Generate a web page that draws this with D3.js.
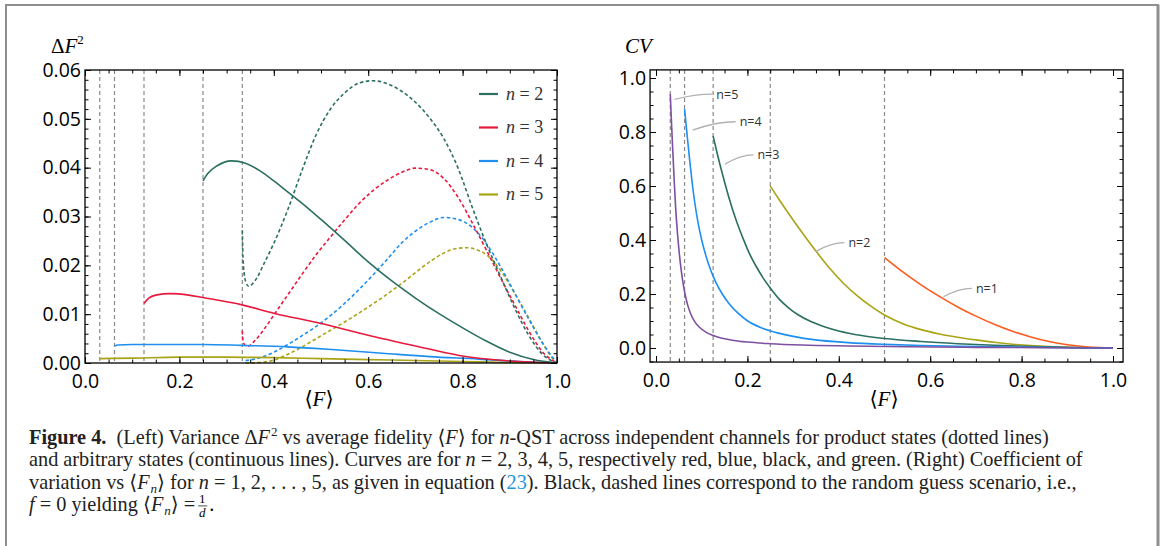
<!DOCTYPE html>
<html>
<head>
<meta charset="utf-8">
<script src="https://cdn.jsdelivr.net/npm/d3@7"></script>
<style>
  body { margin: 0; background: #fff; }
  svg text { font-family: "Open Sans", sans-serif; }
  svg .serif text, svg text.serif { font-family: "Liberation Serif", "DejaVu Serif", serif; }
</style>
</head>
<body>
<svg id="fig" width="1165" height="546"></svg>
<script>
// ---- left panel: variance dF^2 vs <F> ----
let varN2Arb = [[0.25,0.0373],[0.26,0.0388],[0.28,0.0404],[0.31,0.0414],[0.34,0.0409],[0.37,0.0394],[0.40,0.0373],[0.43,0.0350],[0.46,0.0327],[0.50,0.0294],[0.55,0.0251],[0.60,0.0207],[0.65,0.0168],[0.70,0.0133],[0.75,0.0101],[0.80,0.0072],[0.85,0.0045],[0.90,0.0022],[0.95,0.0007],[1.0,0]];
let varN2Prod = [[0.3333,0.0272],[0.3345,0.0222],[0.337,0.0185],[0.341,0.0165],[0.347,0.0157],[0.36,0.0168],[0.38,0.0205],[0.40,0.0245],[0.43,0.0315],[0.46,0.0395],[0.49,0.0468],[0.52,0.0520],[0.55,0.0553],[0.58,0.0573],[0.61,0.0578],[0.64,0.0572],[0.67,0.0557],[0.70,0.0534],[0.73,0.0502],[0.76,0.0460],[0.79,0.0400],[0.82,0.0320],[0.85,0.0245],[0.88,0.0178],[0.91,0.0113],[0.94,0.0057],[0.97,0.0017],[1.0,0]];
let varN3Arb = [[0.125,0.0122],[0.135,0.0133],[0.15,0.0139],[0.18,0.0142],[0.22,0.0139],[0.25,0.0134],[0.333,0.0119],[0.40,0.0102],[0.50,0.0081],[0.60,0.0057],[0.70,0.0035],[0.79,0.0016],[0.90,0.0004],[1.0,0]];
let varN3Prod = [[0.3333,0.0066],[0.335,0.0045],[0.34,0.0036],[0.347,0.0035],[0.36,0.0046],[0.38,0.0070],[0.40,0.0098],[0.43,0.0140],[0.46,0.0182],[0.49,0.0222],[0.52,0.0258],[0.55,0.0293],[0.58,0.0326],[0.61,0.0353],[0.64,0.0374],[0.67,0.0390],[0.70,0.0399],[0.73,0.0396],[0.76,0.0378],[0.79,0.0340],[0.82,0.0288],[0.85,0.0232],[0.88,0.0175],[0.91,0.0120],[0.94,0.0066],[0.97,0.0022],[1.0,0]];
let varN4Arb = [[0.0625,0.0035],[0.07,0.0037],[0.10,0.0038],[0.20,0.0038],[0.25,0.0038],[0.333,0.0036],[0.43,0.0033],[0.53,0.0027],[0.63,0.0020],[0.73,0.0013],[0.834,0.0008],[0.92,0.0003],[1.0,0]];
let varN4Prod = [[0.34,0.0005],[0.36,0.0008],[0.38,0.0014],[0.40,0.0022],[0.43,0.0038],[0.46,0.0056],[0.49,0.0075],[0.52,0.0097],[0.55,0.0122],[0.58,0.0150],[0.61,0.0180],[0.64,0.0212],[0.67,0.0245],[0.70,0.0270],[0.73,0.0288],[0.76,0.0298],[0.79,0.0294],[0.82,0.0278],[0.85,0.0245],[0.88,0.0198],[0.91,0.0144],[0.94,0.0090],[0.97,0.0040],[1.0,0]];
let varN5Arb = [[0.03125,0.0009],[0.10,0.0010],[0.20,0.0012],[0.30,0.0012],[0.40,0.0011],[0.50,0.0009],[0.60,0.0007],[0.70,0.0005],[0.80,0.0003],[0.90,0.0001],[1.0,0]];
let varN5Prod = [[0.34,0],[0.37,0.0001],[0.40,0.0006],[0.43,0.0018],[0.46,0.0033],[0.49,0.0050],[0.52,0.0067],[0.55,0.0084],[0.58,0.0102],[0.61,0.0121],[0.64,0.0141],[0.67,0.0162],[0.70,0.0185],[0.73,0.0207],[0.76,0.0225],[0.79,0.0235],[0.81,0.0236],[0.83,0.0232],[0.85,0.0222],[0.87,0.0203],[0.89,0.0176],[0.91,0.0143],[0.93,0.0110],[0.95,0.0075],[0.97,0.0040],[0.99,0.0010],[1.0,0]];
let guessLeft = [0.03125, 0.0625, 0.125, 0.25, 0.3333];
let legendNames = ['2', '3', '4', '5'];

// ---- right panel: coefficient of variation ----
let cvN1 = [[0.5,0.335],[0.54,0.282],[0.58,0.234],[0.62,0.191],[0.66,0.152],[0.70,0.118],[0.74,0.088],[0.78,0.062],[0.82,0.041],[0.86,0.024],[0.90,0.012],[0.94,0.0045],[0.97,0.0013],[1.0,0]];
let cvN2 = [[0.25,0.60],[0.27,0.548],[0.30,0.474],[0.33,0.404],[0.35,0.359],[0.38,0.295],[0.41,0.240],[0.44,0.194],[0.47,0.155],[0.50,0.122],[0.54,0.090],[0.58,0.068],[0.62,0.052],[0.66,0.040],[0.70,0.030],[0.74,0.021],[0.78,0.014],[0.82,0.0087],[0.86,0.0050],[0.90,0.0024],[0.95,0.0006],[1.0,0]];
let cvN3 = [[0.125,0.785],[0.135,0.713],[0.147,0.634],[0.159,0.560],[0.175,0.475],[0.19,0.408],[0.205,0.348],[0.22,0.300],[0.235,0.258],[0.25,0.222],[0.27,0.180],[0.29,0.149],[0.31,0.124],[0.34,0.097],[0.37,0.078],[0.40,0.063],[0.45,0.046],[0.50,0.035],[0.58,0.024],[0.66,0.016],[0.74,0.010],[0.82,0.0058],[0.90,0.0025],[0.95,0.0009],[1.0,0]];
let cvN4 = [[0.0625,0.885],[0.068,0.79],[0.074,0.69],[0.08,0.60],[0.086,0.525],[0.093,0.455],[0.10,0.400],[0.11,0.337],[0.12,0.287],[0.13,0.247],[0.145,0.200],[0.16,0.164],[0.18,0.128],[0.20,0.101],[0.23,0.075],[0.266,0.056],[0.30,0.043],[0.345,0.031],[0.42,0.020],[0.50,0.0135],[0.58,0.0095],[0.66,0.0066],[0.74,0.0043],[0.82,0.0025],[0.90,0.0011],[1.0,0]];
let cvN5 = [[0.03125,0.94],[0.034,0.83],[0.037,0.72],[0.040,0.615],[0.043,0.52],[0.047,0.425],[0.051,0.35],[0.055,0.29],[0.06,0.232],[0.065,0.188],[0.07,0.155],[0.077,0.122],[0.085,0.097],[0.095,0.077],[0.11,0.058],[0.125,0.046],[0.145,0.036],[0.17,0.028],[0.20,0.022],[0.25,0.016],[0.32,0.011],[0.42,0.0075],[0.55,0.0045],[0.70,0.0025],[0.85,0.0011],[1.0,0]];
let guessRight = [0.03125, 0.0625, 0.125, 0.25, 0.5];
let cvNames = ['n=5', 'n=4', 'n=3', 'n=2', 'n=1'];
let cvNameAt = [[0.132,0.94],[0.183,0.838],[0.222,0.715],[0.421,0.39],[0.70,0.221]];
let cvNameFrom = [[0.041,0.921],[0.080,0.807],[0.151,0.681],[0.349,0.357],[0.629,0.19]];

let xTicks = [0, 0.2, 0.4, 0.6, 0.8, 1.0];
let col = {n1: '#ff5a1e', n2: '#2b6f60', n3: '#e8193c', n4: '#1e8ff0', n5: '#a9a316', n5r: '#7d50a0'};

let svg = d3.select('#fig');

// outer paper frame
svg.append('path').attr('d', 'M6,546 V5 H1158 V546').attr('fill', 'none')
    .attr('stroke', '#8e8e8e').attr('stroke-width', 2);
svg.append('line').attr('x1', 1158).attr('x2', 1158).attr('y1', 5).attr('y2', 546)
    .attr('stroke', '#8e8e8e').attr('stroke-width', 3);

function range(a, b, s) {
    let out = [];
    for (let v = a; v <= b + 1e-9; v += s) out.push(+v.toFixed(4));
    return out;
}

function drawFrame(x, y, box, yMajor, yMinor, fy) {
    let g = svg.append('g');
    let big = 6, small = 3.5;
    let fx = d3.format('.1f');
    let set = sel => sel.attr('font-size', 19.5).attr('font-family', '"Open Sans", sans-serif')
        .call(s => s.select('.domain').remove());
    g.append('g').attr('transform', `translate(0,${box.b})`)
        .call(d3.axisBottom(x).tickValues(xTicks).tickSize(-big).tickPadding(11).tickFormat(fx)).call(set);
    g.append('g').attr('transform', `translate(0,${box.b})`)
        .call(d3.axisBottom(x).tickValues(range(0, 1, 0.05)).tickSize(-small).tickFormat('')).call(set);
    g.append('g').attr('transform', `translate(0,${box.t})`)
        .call(d3.axisTop(x).tickValues(xTicks).tickSize(-big).tickFormat('')).call(set);
    g.append('g').attr('transform', `translate(0,${box.t})`)
        .call(d3.axisTop(x).tickValues(range(0, 1, 0.05)).tickSize(-small).tickFormat('')).call(set);
    g.append('g').attr('transform', `translate(${box.l},0)`)
        .call(d3.axisLeft(y).tickValues(yMajor).tickSize(-big).tickPadding(4).tickFormat(fy)).call(set);
    g.append('g').attr('transform', `translate(${box.l},0)`)
        .call(d3.axisLeft(y).tickValues(yMinor).tickSize(-small).tickFormat('')).call(set);
    g.append('g').attr('transform', `translate(${box.r},0)`)
        .call(d3.axisRight(y).tickValues(yMajor).tickSize(-big).tickFormat('')).call(set);
    g.append('g').attr('transform', `translate(${box.r},0)`)
        .call(d3.axisRight(y).tickValues(yMinor).tickSize(-small).tickFormat('')).call(set);
    g.append('rect').attr('x', box.l).attr('y', box.t).attr('width', box.r - box.l).attr('height', box.b - box.t)
        .attr('fill', 'none').attr('stroke', '#000').attr('stroke-width', 1.3);
}

function guessLines(x, box, vals) {
    svg.append('g').selectAll('line').data(vals).join('line')
        .attr('x1', d => x(d)).attr('x2', d => x(d))
        .attr('y1', box.t).attr('y2', box.b)
        .attr('stroke', '#8a8a8a').attr('stroke-width', 1.2).attr('stroke-dasharray', '4,3');
}

// ================= left panel =================
let xL = d3.scaleLinear().domain([0, 1]).range([85, 557]);
let yL = d3.scaleLinear().domain([0, 0.06]).range([363, 70]);
let boxL = {l: xL(0), r: xL(1), t: yL(0.06), b: yL(0)};

guessLines(xL, boxL, guessLeft);

let lineL = d3.line().x(d => xL(d[0])).y(d => yL(d[1])).curve(d3.curveMonotoneX);
let leftSeries = [
    {d: varN5Prod, c: col.n5, dash: true}, {d: varN4Prod, c: col.n4, dash: true},
    {d: varN3Prod, c: col.n3, dash: true}, {d: varN2Prod, c: col.n2, dash: true},
    {d: varN5Arb, c: col.n5}, {d: varN4Arb, c: col.n4},
    {d: varN3Arb, c: col.n3}, {d: varN2Arb, c: col.n2}
];
svg.append('g').attr('fill', 'none').selectAll('path').data(leftSeries).join('path')
    .attr('d', s => lineL(s.d))
    .attr('stroke', s => s.c)
    .attr('stroke-width', 1.6)
    .attr('stroke-dasharray', s => s.dash ? '3.5,2.5' : null);

drawFrame(xL, yL, boxL, range(0, 0.06, 0.01), range(0, 0.06, 0.002), d3.format('.2f'));

// legend
let legCols = [col.n2, col.n3, col.n4, col.n5];
let leg = svg.append('g').attr('class', 'serif');
legendNames.forEach((nm, i) => {
    let yy = 94 + i * 33.5;
    leg.append('line').attr('x1', 479).attr('x2', 498).attr('y1', yy).attr('y2', yy)
        .attr('stroke', legCols[i]).attr('stroke-width', 2.2);
    let t = leg.append('text').attr('x', 506).attr('y', yy + 5.5).attr('font-size', 18).attr('fill', '#333');
    t.append('tspan').attr('font-style', 'italic').text('n');
    t.append('tspan').text(' = ' + nm);
});

// axis titles
let tl = svg.append('text').attr('class', 'serif').attr('x', 51).attr('y', 53).attr('font-size', 21);
tl.append('tspan').text('Δ');
tl.append('tspan').attr('font-style', 'italic').text('F');
tl.append('tspan').attr('font-size', 13).attr('dy', -9).text('2');

function fTitle(cx) {
    let t = svg.append('text').attr('class', 'serif').attr('x', cx).attr('y', 406)
        .attr('text-anchor', 'middle').attr('font-size', 21);
    t.append('tspan').text('⟨');
    t.append('tspan').attr('font-style', 'italic').text('F');
    t.append('tspan').text('⟩');
}
fTitle(319);

// ================= right panel =================
let xR = d3.scaleLinear().domain([0, 1]).range([656, 1113]);
let yR = d3.scaleLinear().domain([0, 1]).range([348, 78]);
let boxR = {l: xR(-0.013), r: xR(1.022), t: yR(1.03), b: yR(-0.052)};

guessLines(xR, boxR, guessRight);

let lineR = d3.line().x(d => xR(d[0])).y(d => yR(d[1])).curve(d3.curveMonotoneX);
let rightSeries = [
    {d: cvN1, c: col.n1}, {d: cvN2, c: col.n5}, {d: cvN3, c: col.n2},
    {d: cvN4, c: col.n4}, {d: cvN5, c: col.n5r}
];
svg.append('g').attr('fill', 'none').selectAll('path').data(rightSeries).join('path')
    .attr('d', s => lineR(s.d))
    .attr('stroke', s => s.c)
    .attr('stroke-width', 1.6);

// callouts
let call = svg.append('g');
cvNames.forEach((nm, i) => {
    let p0 = [xR(cvNameFrom[i][0]), yR(cvNameFrom[i][1])];
    let p1 = [xR(cvNameAt[i][0]) - 4, yR(cvNameAt[i][1])];
    let cx = p0[0] + (p1[0] - p0[0]) * 0.55;
    call.append('path')
        .attr('d', `M${p0[0]},${p0[1]} Q${cx},${p1[1]} ${p1[0]},${p1[1]}`)
        .attr('fill', 'none').attr('stroke', '#b0b0b0').attr('stroke-width', 1.3);
    call.append('text').attr('x', xR(cvNameAt[i][0])).attr('y', yR(cvNameAt[i][1]) + 4.5)
        .attr('font-size', 12.5).attr('fill', '#333').text(nm);
});

drawFrame(xR, yR, boxR, range(0, 1, 0.2), range(-0.05, 1.0, 0.05), d3.format('.1f'));

svg.append('text').attr('class', 'serif').attr('x', 625).attr('y', 53)
    .attr('font-size', 21).attr('font-style', 'italic').text('CV');
fTitle(884);

// ================= caption =================
let capLines = [
    [['Figure 4.', 'b'], ['\u2002(Left) Variance Δ', ''], ['F', 'i'], ['2', 'sup'], [' vs average fidelity ⟨', ''], ['F', 'i'],
     ['⟩ for ', ''], ['n', 'i'], ['-QST across independent channels for product states (dotted lines)', '']],
    [['and arbitrary states (continuous lines). Curves are for ', ''], ['n', 'i'], [' = 2, 3, 4, 5, respectively red, blue, black, and green. (Right) Coefficient of', '']],
    [['variation vs ⟨', ''], ['F', 'i'], ['n', 'sub'], ['⟩ for ', ''], ['n', 'i'], [' = 1, 2, . . . , 5, as given in equation (', ''], ['23', 'link'],
     ['). Black, dashed lines correspond to the random guess scenario, i.e.,', '']],
    [['f', 'i'], [' = 0 yielding ⟨', ''], ['F', 'i'], ['n', 'sub'], ['⟩ = ', '']]
];
let capSize = 20.3, capTop = 444, capStep = 22.3;
let cap = svg.append('g').attr('class', 'serif');
let lastText;
capLines.forEach((segs, li) => {
    let t = cap.append('text').attr('x', 29).attr('y', capTop + li * capStep).attr('font-size', capSize).attr('fill', '#222');
    let shift = 0;
    segs.forEach(([txt, st]) => {
        let sp = t.append('tspan').text(txt);
        let want = 0;
        if (st === 'b') sp.attr('font-weight', 'bold');
        if (st === 'i') sp.attr('font-style', 'italic');
        if (st === 'link') sp.attr('fill', '#2196d8');
        if (st === 'sup') { sp.attr('font-size', 13).attr('dx', 1); want = -8; }
        if (st === 'sub') { sp.attr('font-size', 13).attr('font-style', 'italic').attr('dx', 1); want = 4; }
        sp.attr('dy', want - shift);
        shift = want;
    });
    lastText = t;
});
// 1/d fraction at the end of the last line
let endX = 29 + lastText.node().getComputedTextLength() + 4;
let fy0 = capTop + 3 * capStep;
cap.append('text').attr('x', endX + 4).attr('y', fy0 - 8).attr('text-anchor', 'middle').attr('font-size', 13).text('1');
cap.append('line').attr('x1', endX).attr('x2', endX + 9).attr('y1', fy0 - 5).attr('y2', fy0 - 5).attr('stroke', '#222').attr('stroke-width', 0.8);
cap.append('text').attr('x', endX + 4).attr('y', fy0 + 6).attr('text-anchor', 'middle').attr('font-size', 13).attr('font-style', 'italic').text('d');
cap.append('text').attr('x', endX + 11).attr('y', fy0).attr('font-size', capSize).text('.');
</script>
</body>
</html>
